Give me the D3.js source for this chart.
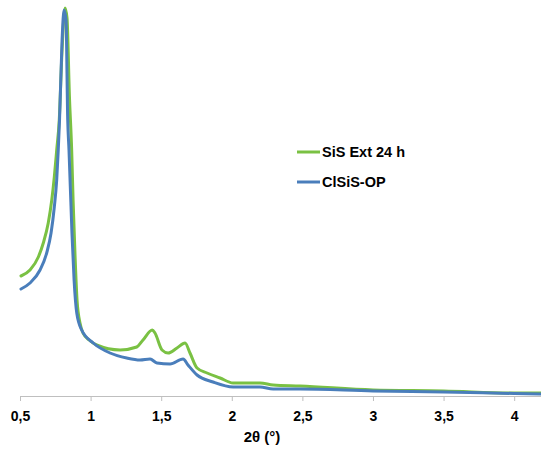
<!DOCTYPE html>
<html><head><meta charset="utf-8">
<script src="https://cdn.jsdelivr.net/npm/d3@7"></script>
<style>body{margin:0;background:#fff}svg{display:block}text{font-family:"Liberation Sans",Arial,sans-serif;font-weight:bold;fill:#000}</style>
</head><body><svg id="c" width="541" height="453"></svg>
<script>
const xTicks = [0.5,1,1.5,2,2.5,3,3.5,4];
const seriesNames = ["SiS Ext 24 h","ClSiS-OP"];
const greenX = [0.507,0.571,0.630,0.665,0.700,0.725,0.743,0.760,0.778,0.798,0.819,0.833,0.850,0.866,0.876,0.890,0.904,0.925,0.946,0.990,1.043,1.209,1.327,1.371,1.437,1.456,1.506,1.549,1.612,1.669,1.704,1.754,1.825,1.917,2.009,2.200,2.293,2.484,3.0,3.5,4.0,4.19];
const greenY = [120,126,139,153,173,196,219,246,276,346,388,378,300,246,196,140,96,73,63,56,51,46,49,56,66,63,46,43,48,53,43,28,23,18,13,13,11,10,6,5,3,3];
const blueX = [0.507,0.571,0.642,0.689,0.720,0.743,0.760,0.771,0.780,0.798,0.812,0.826,0.838,0.847,0.868,0.883,0.902,0.937,1.019,1.138,1.256,1.350,1.421,1.470,1.563,1.655,1.690,1.754,1.867,2.009,2.200,2.293,2.484,3.0,3.5,4.0,4.19];
const blueY = [107,113,126,143,163,189,216,246,276,356,386,376,276,246,163,116,83,66,53,43,38,36,37,33,32,37,31,21,14,9,9,7,7,5,4,2.5,2];
const colors = ["#7ac143","#4a7ebb"];

const svg = d3.select("#c");
const x = d3.scaleLinear().domain([0.5,4.19]).range([20,541]);
const y = d3.scaleLinear().domain([0,390]).range([396,6]);

const ax = svg.append("g").attr("transform","translate(0,396)")
  .call(d3.axisBottom(x).tickValues(xTicks).tickSize(5).tickSizeOuter(0).tickPadding(10)
    .tickFormat(d=>String(d).replace(".",",")));
ax.select(".domain").attr("stroke","#bfbfbf");
ax.selectAll(".tick line").attr("stroke","#bfbfbf");
ax.selectAll(".tick text").attr("font-size","14px").attr("font-family","Liberation Sans, Arial, sans-serif").attr("font-weight","bold").attr("fill","#000");

svg.append("text").attr("x",262).attr("y",442).attr("text-anchor","middle").attr("font-size","15px").text("2θ (°)");

const line = d3.line().x(d=>x(d[0])).y(d=>y(d[1])).curve(d3.curveMonotoneX);
const data = [greenX.map((v,i)=>[v,greenY[i]]), blueX.map((v,i)=>[v,blueY[i]])];
[0,1].forEach(i=>{
  svg.append("path").datum(data[i]).attr("fill","none").attr("stroke",colors[i]).attr("stroke-width",3)
    .attr("stroke-linejoin","round").attr("stroke-linecap","round").attr("d",line);
});

const lg = svg.append("g");
seriesNames.forEach((n,i)=>{
  const yy = 152 + i*30;
  lg.append("line").attr("x1",297).attr("x2",320).attr("y1",yy).attr("y2",yy).attr("stroke",colors[i]).attr("stroke-width",3);
  lg.append("text").attr("x",322).attr("y",yy+5).attr("font-size","14.5px").text(n);
});
</script></body></html>
